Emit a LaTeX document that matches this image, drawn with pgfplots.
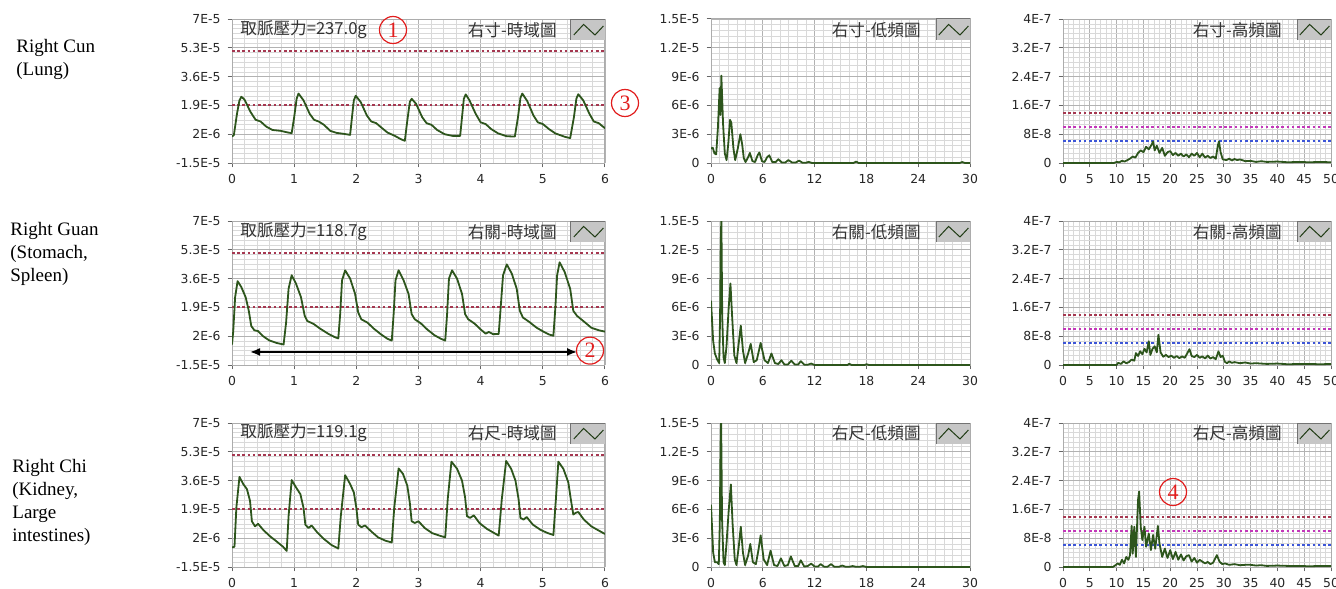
\documentclass[border=0pt]{standalone}
\usepackage{pgfplots}
\pgfplotsset{compat=1.18}
\usepackage{fontspec}
\setmainfont{Liberation Serif}
\newfontfamily\tickfont{DejaVu Sans}
\newfontfamily\cjk{Noto Sans CJK TC}
\newfontfamily\serif{Liberation Serif}
\usetikzlibrary{arrows.meta}
\definecolor{wave}{RGB}{45,85,28}
\definecolor{dotred}{RGB}{165,55,80}
\definecolor{dotmag}{RGB}{195,55,185}
\definecolor{dlblue}{RGB}{60,85,215}
\definecolor{annored}{RGB}{225,30,30}
\pgfplotsset{
 panel/.style={scale only axis, anchor=south west, height=72pt,
  grid=both, major grid style={draw=gray!60,line width=0.45pt},
  minor grid style={draw=gray!30,line width=0.3pt},
  tick align=outside, tick pos=left, major tick length=2.2pt, minor tick length=0pt,
  axis line style={draw=gray!65,line width=0.5pt},
  every tick/.style={black!60,line width=0.5pt},
  ticklabel style={font=\tickfont\fontsize{6.2}{6.2}\selectfont, text=black!85},
  /pgf/number format/assume math mode=true,
  clip=true},
 tcol/.style={panel, width=186.5pt, xmin=0,xmax=6, ymin=-15,ymax=70,
  xtick={0,...,6}, ytick={-15,2,19,36,53,70},
  yticklabels={-1.5E-5,2E-6,1.9E-5,3.6E-5,5.3E-5,7E-5},
  minor x tick num=4, minor y tick num=5},
 lcol/.style={panel, width=129.5pt, xmin=0,xmax=30, ymin=0,ymax=15,
  xtick={0,6,...,30}, ytick={0,3,...,15},
  yticklabels={0,3E-6,6E-6,9E-6,1.2E-5,1.5E-5},
  minor x tick num=5, minor y tick num=4},
 hcol/.style={panel, width=134pt, xmin=0,xmax=50, ymin=0,ymax=40,
  xtick={0,5,...,50}, ytick={0,8,...,40},
  yticklabels={0,8E-8,1.6E-7,2.4E-7,3.2E-7,4E-7},
  minor x tick num=4, minor y tick num=5},
 wv/.style={draw=wave, line width=0.9pt, line join=round, mark=none},
 dl/.style={line width=1pt, dash pattern=on 1.3pt off 1.3pt, mark=none},
}
\newcommand{\panelicon}{%
 \fill[gray!45] ([xshift=-17pt,yshift=-10.5pt]rel axis cs:1,1) rectangle (rel axis cs:1,1);
 \draw[black!55,line width=0.5pt] ([xshift=-17pt,yshift=-10.5pt]rel axis cs:1,1) -- ([xshift=-17pt]rel axis cs:1,1) -- (rel axis cs:1,1);
 \draw[wave!70!black,line width=0.5pt] ([xshift=-15.6pt,yshift=-8pt]rel axis cs:1,1) -- ([xshift=-10.7pt,yshift=-2.7pt]rel axis cs:1,1) -- ([xshift=-5pt,yshift=-8pt]rel axis cs:1,1) -- ([xshift=-0.8pt,yshift=-3.5pt]rel axis cs:1,1);
}
\begin{document}
\begin{tikzpicture}
\useasboundingbox (0,0) rectangle (668pt,-294pt);
% ---------------- Row 1 ----------------
\begin{axis}[tcol, at={(116pt,-81.5pt)}]
\addplot[dl, draw=dotred] coordinates {(0,51) (6,51)};
\addplot[dl, draw=dotred] coordinates {(0,19.5) (6,19.5)};
\addplot[wv] coordinates {
(0,0.6) (0.03,1.5) (0.08,14) (0.12,22) (0.15,24.1) (0.2,22.5) (0.3,15) (0.38,10.5) (0.46,9.5) (0.55,6.5) (0.65,4.5) (0.78,4) (0.9,3)
(0.96,2.6) (1.0,12) (1.04,23) (1.07,26) (1.15,22) (1.25,14) (1.32,10.5) (1.40,9.4) (1.48,7.5) (1.58,4) (1.68,2.8) (1.80,2.2)
(1.90,1.6) (1.93,12) (1.96,22) (1.99,24.7) (2.07,21) (2.17,13) (2.24,9.5) (2.32,8.5) (2.40,6) (2.50,3) (2.62,1) (2.72,-1)
(2.78,-1.9) (2.82,10) (2.86,21) (2.89,22.9) (2.96,20) (3.06,12) (3.13,8.5) (3.21,7.5) (3.30,4.5) (3.42,2) (3.55,1)
(3.67,1.0) (3.70,12) (3.73,23) (3.76,25.5) (3.82,22) (3.92,14) (4.0,9) (4.08,8) (4.17,5) (4.28,2.5) (4.42,0.8)
(4.55,0.6) (4.60,12) (4.64,23.5) (4.67,26) (4.75,21.5) (4.85,13) (4.92,9) (5.0,8) (5.1,5) (5.2,2.5) (5.35,0.5)
(5.44,-0.3) (5.50,12) (5.54,23) (5.57,25.6) (5.65,22) (5.75,14) (5.82,9.5) (5.90,8.5) (6.0,5.5)};
\panelicon
\end{axis}
\begin{axis}[lcol, at={(355.5pt,-81.5pt)}]
\addplot[wv] coordinates {
(0,1.5) (0.2,1.6) (0.4,1.0) (0.6,0.9) (0.8,3.7) (1.0,7.8) (1.1,5) (1.2,9.1) (1.4,4) (1.6,1) (1.8,0.3)
(2.0,2) (2.2,4.5) (2.35,4.2) (2.6,1.5) (2.8,0.3) (3.1,1.5) (3.4,3.0) (3.6,2.0) (3.8,0.5) (4.0,0.1)
(4.3,0.6) (4.5,1.05) (4.8,0.2) (5.1,0.1) (5.4,0.8) (5.6,1.1) (5.9,0.2) (6.2,0.1) (6.5,0.6) (6.75,0.8)
(7.1,0.1) (7.5,0.1) (7.8,0.4) (8.2,0.05) (8.6,0.05) (8.96,0.3) (9.4,0.05) (9.8,0.05) (10.2,0.25)
(10.6,0.02) (11.0,0.02) (11.3,0.12) (11.7,0) (16.5,0) (16.8,0.15) (17.1,0) (28.8,0) (29.1,0.1) (29.4,0) (30,0)};
\panelicon
\end{axis}
\begin{axis}[hcol, at={(531.5pt,-81.5pt)}]
\addplot[dl, draw=dotred] coordinates {(0,14) (50,14)};
\addplot[dl, draw=dotmag] coordinates {(0,10) (50,10)};
\addplot[dl, draw=dlblue] coordinates {(0,6) (50,6)};
\addplot[wv] coordinates {
(0,0) (9.5,0) (10,0.3) (10.5,0.2) (11,0.6) (11.5,0.4) (12,0.8) (12.5,1.2) (13,1.8) (13.5,1.5) (14,2.8)
(14.5,3.5) (15,3.0) (15.5,4.5) (16,3.8) (16.5,5.0) (16.8,6.0) (17.1,3.5) (17.5,4.8) (18,2.8) (18.5,4.2)
(19,2.0) (19.5,3.0) (20,3.3) (20.5,2.2) (21,2.8) (21.5,2.0) (22,2.6) (22.5,1.8) (23,2.4) (23.5,1.6)
(24,2.6) (24.5,2.0) (25,2.8) (25.5,1.6) (26,2.6) (26.5,1.5) (27,2.0) (27.5,1.4) (28,1.8) (28.5,1.2)
(28.9,5.0) (29.1,6.0) (29.4,3.0) (29.8,1.0) (30.5,0.8) (31,1.2) (31.5,0.7) (32,1.1) (32.5,0.8) (33,1.0)
(34,0.5) (35,0.6) (36,0.3) (37,0.5) (38,0.3) (40,0.4) (42,0.2) (44,0.3) (46,0.2) (48,0.3) (50,0.2)};
\panelicon
\end{axis}
% ---------------- Row 2 ----------------
\begin{axis}[tcol, at={(116pt,-182.5pt)}]
\addplot[dl, draw=dotred] coordinates {(0,51) (6,51)};
\addplot[dl, draw=dotred] coordinates {(0,19.5) (6,19.5)};
\addplot[wv] coordinates {
(0,-3) (0.02,5) (0.05,25) (0.09,34.5) (0.15,31) (0.22,25) (0.27,17) (0.31,8) (0.36,5.5) (0.42,5) (0.5,2) (0.6,-0.5) (0.72,-2)
(0.83,-2.9) (0.87,10) (0.91,30) (0.96,38) (1.03,33) (1.11,25) (1.17,14) (1.21,11) (1.31,9.3) (1.42,6.4) (1.55,3.4) (1.65,1.5)
(1.71,0.7) (1.74,15) (1.77,35) (1.82,40.9) (1.90,36) (1.98,27) (2.03,16) (2.08,12) (2.18,10) (2.28,6.5) (2.40,3) (2.50,0.5)
(2.57,-0.6) (2.60,15) (2.63,35) (2.68,40.9) (2.76,35) (2.84,27) (2.89,15) (2.94,12) (3.04,9.5) (3.14,6) (3.26,2.5) (3.36,0.5)
(3.43,-0.6) (3.46,15) (3.49,36) (3.54,40.9) (3.62,36) (3.70,27) (3.75,15) (3.80,12) (3.90,9.5) (4.0,6) (4.08,3.5) (4.13,4.5) (4.20,3.2)
(4.29,3.3) (4.32,18) (4.36,38) (4.42,44.4) (4.50,39) (4.58,30) (4.63,17) (4.68,13) (4.78,10.5) (4.90,7) (5.02,4.5) (5.10,3)
(5.17,2.3) (5.20,18) (5.23,38) (5.27,45.6) (5.35,40) (5.44,30) (5.49,17) (5.55,14) (5.65,11) (5.78,7) (5.90,5.5) (6.0,4.7)};
\draw[{Latex[length=5pt,width=4pt]}-{Latex[length=5pt,width=4pt]}, line width=0.8pt] (axis cs:0.29,-7.3) -- (axis cs:5.55,-7.3);
\panelicon
\end{axis}
\begin{axis}[lcol, at={(355.5pt,-182.5pt)}]
\addplot[wv] coordinates {
(0,6.7) (0.1,5) (0.25,2.5) (0.45,1.2) (0.7,0.6) (0.95,0.2) (1.05,5) (1.12,12.3) (1.2,15.5) (1.3,5) (1.45,0.8) (1.6,0.2)
(1.8,2) (2.05,6) (2.25,8.5) (2.45,5) (2.7,1) (2.95,0.2) (3.2,2.2) (3.45,4.1) (3.7,1.5) (3.95,0.2) (4.3,1.2) (4.6,2.2)
(4.95,0.3) (5.3,0.5) (5.75,2.3) (6.2,0.5) (6.6,0.2) (7.0,1.2) (7.4,0.2) (7.8,0.1) (8.15,0.5) (8.5,0.05) (8.9,0.05)
(9.3,0.45) (9.7,0.05) (10.1,0.05) (10.4,0.4) (10.8,0.03) (11.2,0.03) (11.6,0.15) (12.0,0) (15.8,0) (16.0,0.12) (16.3,0)
(17.8,0) (18.0,0.08) (18.3,0) (30,0)};
\panelicon
\end{axis}
\begin{axis}[hcol, at={(531.5pt,-182.5pt)}]
\addplot[dl, draw=dotred] coordinates {(0,14) (50,14)};
\addplot[dl, draw=dotmag] coordinates {(0,10) (50,10)};
\addplot[dl, draw=dlblue] coordinates {(0,6) (50,6)};
\addplot[wv] coordinates {
(0,0) (10,0) (10.3,0.6) (10.8,0.3) (11.3,1.0) (11.8,0.5) (12.3,0.8) (12.8,1.5) (13.3,1.2) (13.6,3.3) (14,2.5) (14.4,3.8)
(14.8,3.0) (15.2,4.5) (15.6,3.5) (16,6.6) (16.3,2.8) (16.7,4.5) (17.1,5.2) (17.5,3.5) (17.8,8.4) (18.2,3.5) (18.7,2.3)
(19.2,2.8) (19.7,2.2) (20.2,2.6) (20.7,2.0) (21.2,2.5) (21.7,1.9) (22.2,2.4) (22.7,2.0) (23.2,3.3) (23.6,4.4) (24.0,2.5)
(24.5,2.2) (25.0,2.8) (25.5,2.0) (26.0,2.4) (26.5,1.8) (27.0,2.6) (27.5,1.8) (28.0,2.2) (28.5,1.6) (29.0,3.8) (29.4,2.2)
(29.8,2.6) (30.2,0.9) (30.6,0.5) (31.0,1.0) (31.5,0.6) (32.0,0.8) (33.0,0.5) (34.0,0.7) (35.0,0.4) (36.0,0.5) (38.0,0.3)
(40,0.4) (42,0.2) (44,0.3) (46,0.3) (48,0.2) (50,0.3)};
\panelicon
\end{axis}
% ---------------- Row 3 ----------------
\begin{axis}[tcol, at={(116pt,-283.5pt)}]
\addplot[dl, draw=dotred] coordinates {(0,51) (6,51)};
\addplot[dl, draw=dotred] coordinates {(0,19.5) (6,19.5)};
\addplot[wv] coordinates {
(0,-3.5) (0.04,-3) (0.07,20) (0.12,38.2) (0.18,34) (0.24,31) (0.29,24) (0.32,12) (0.37,9) (0.42,10.5) (0.5,7) (0.6,3.5) (0.72,0) (0.82,-3)
(0.88,-5.5) (0.91,15) (0.96,36.3) (1.03,32) (1.10,28) (1.15,20) (1.18,10) (1.23,8) (1.28,9.5) (1.37,5.5) (1.48,1.5) (1.60,-2)
(1.71,-4.1) (1.75,15) (1.82,39.2) (1.90,34) (1.96,29) (2.00,20) (2.03,10) (2.08,8.5) (2.14,9.5) (2.24,6) (2.35,2.5) (2.47,0.5)
(2.57,-0.5) (2.61,20) (2.68,43.2) (2.75,40) (2.82,33) (2.86,23) (2.89,12) (2.94,11) (3.00,12) (3.10,8) (3.22,5) (3.34,3.5)
(3.43,2.5) (3.47,25) (3.53,47.2) (3.62,43) (3.70,36) (3.75,26) (3.78,15) (3.83,14) (3.89,15.5) (3.98,11) (4.10,7.5) (4.22,5)
(4.29,3.5) (4.34,25) (4.41,47.6) (4.49,43) (4.56,36) (4.61,25) (4.64,14) (4.69,13) (4.74,14.5) (4.84,10) (4.96,7) (5.08,5)
(5.17,3.9) (5.21,25) (5.25,47.2) (5.33,43) (5.41,35) (5.45,25) (5.49,16) (5.53,17) (5.57,17.5) (5.66,13) (5.78,9) (5.90,6.5) (6.0,4.5)};
\panelicon
\end{axis}
\begin{axis}[lcol, at={(355.5pt,-283.5pt)}]
\addplot[wv] coordinates {
(0,6.5) (0.1,4.5) (0.25,1.5) (0.45,0.5) (0.7,0.5) (0.9,0.3) (1.02,4.5) (1.1,12.5) (1.17,15.5) (1.28,5) (1.45,0.5) (1.6,0.2)
(1.8,2.5) (2.05,5.9) (2.3,8.6) (2.5,4.5) (2.75,0.8) (2.95,0.2) (3.2,2) (3.45,4.2) (3.7,1.5) (3.95,0.2) (4.3,1.2) (4.55,2.4)
(4.85,0.5) (5.2,0.3) (5.5,1.8) (5.75,3.3) (6.1,0.8) (6.5,0.2) (6.9,1.7) (7.3,0.2) (7.7,0.1) (8.1,0.9) (8.5,0.1) (8.9,0.2)
(9.25,1.1) (9.7,0.1) (10.1,0.1) (10.4,0.7) (10.8,0.05) (11.2,0.1) (11.6,0.35) (12.0,0.05) (12.4,0.05) (12.7,0.3) (13.1,0.03)
(13.5,0.03) (13.9,0.3) (14.3,0.02) (14.8,0.02) (15.2,0.15) (15.6,0.02) (16.0,0.02) (16.4,0.1) (16.8,0.02) (17.2,0.02)
(17.6,0.1) (18.0,0) (30,0)};
\panelicon
\end{axis}
\begin{axis}[hcol, at={(531.5pt,-283.5pt)}]
\addplot[dl, draw=dotred] coordinates {(0,14) (50,14)};
\addplot[dl, draw=dotmag] coordinates {(0,10) (50,10)};
\addplot[dl, draw=dlblue] coordinates {(0,6) (50,6)};
\addplot[wv] coordinates {
(0,0) (9.3,0) (9.8,0.5) (10.2,1.0) (10.6,0.6) (11,2.0) (11.4,1.0) (11.8,2.8) (12.2,2.0) (12.5,3.3) (12.8,11.4) (13.0,3.7)
(13.3,11.2) (13.6,2.8) (14.0,18.7) (14.2,21.0) (14.5,11.2) (14.8,7.5) (15.2,11.2) (15.5,5.6) (16.0,9.3) (16.4,4.7) (16.8,8.9)
(17.2,5.1) (17.7,11.4) (18.0,6.5) (18.5,2.8) (19.0,5.1) (19.5,2.5) (20.0,4.7) (20.5,2.2) (21.0,4.2) (21.5,2.0) (22.0,3.5)
(22.5,1.8) (23.0,3.0) (23.5,3.3) (24.0,1.5) (24.5,2.5) (25.0,1.2) (25.5,2.0) (26.0,1.5) (26.5,1.0) (27.0,1.4) (27.5,0.8)
(28.0,1.2) (28.7,3.3) (29.2,1.5) (29.7,0.8) (30.2,1.0) (31,0.6) (32,0.8) (33,0.5) (34,0.6) (35,0.6) (36,0.4) (37,0.5)
(38,0.3) (40,0.4) (42,0.3) (44,0.3) (46,0.2) (48,0.3) (50,0.3)};
\panelicon
\end{axis}
% ---------------- panel texts ----------------
\begin{scope}[every node/.style={inner sep=0pt, text=black!80, font=\cjk\fontsize{8.3}{8.3}\selectfont}]
\node[anchor=west] at (120pt,-15pt) {取脈壓力=237.0g};
\node[anchor=west] at (120pt,-116pt) {取脈壓力=118.7g};
\node[anchor=west] at (120pt,-216.5pt) {取脈壓力=119.1g};
\node[anchor=east] at (278.5pt,-15pt) {右寸-時域圖};
\node[anchor=east] at (278.5pt,-116pt) {右關-時域圖};
\node[anchor=east] at (278.5pt,-216.5pt) {右尺-時域圖};
\node[anchor=east] at (460.5pt,-15pt) {右寸-低頻圖};
\node[anchor=east] at (460.5pt,-116pt) {右關-低頻圖};
\node[anchor=east] at (460.5pt,-216.5pt) {右尺-低頻圖};
\node[anchor=east] at (641pt,-15pt) {右寸-高頻圖};
\node[anchor=east] at (641pt,-116pt) {右關-高頻圖};
\node[anchor=east] at (641pt,-216.5pt) {右尺-高頻圖};
\end{scope}
% ---------------- row labels ----------------
\begin{scope}[every node/.style={inner sep=0pt, anchor=north west, align=left, font=\serif\fontsize{9.5}{11.5}\selectfont}]
\node at (8pt,-19.5pt) {Right Cun\\(Lung)};
\node at (5pt,-111pt) {Right Guan\\(Stomach,\\Spleen)};
\node at (6pt,-229.5pt) {Right Chi\\(Kidney,\\Large\\intestines)};
\end{scope}
% ---------------- red markers ----------------
\begin{scope}[every node/.style={circle, draw=annored, line width=0.6pt, minimum size=13.5pt, inner sep=0pt, text=annored, font=\serif\fontsize{11}{11}\selectfont}]
\node at (196.5pt,-15pt) {1};
\node at (295pt,-175.3pt) {2};
\node at (312.5pt,-51.5pt) {3};
\node at (586.5pt,-246pt) {4};
\end{scope}
\end{tikzpicture}
\end{document}
